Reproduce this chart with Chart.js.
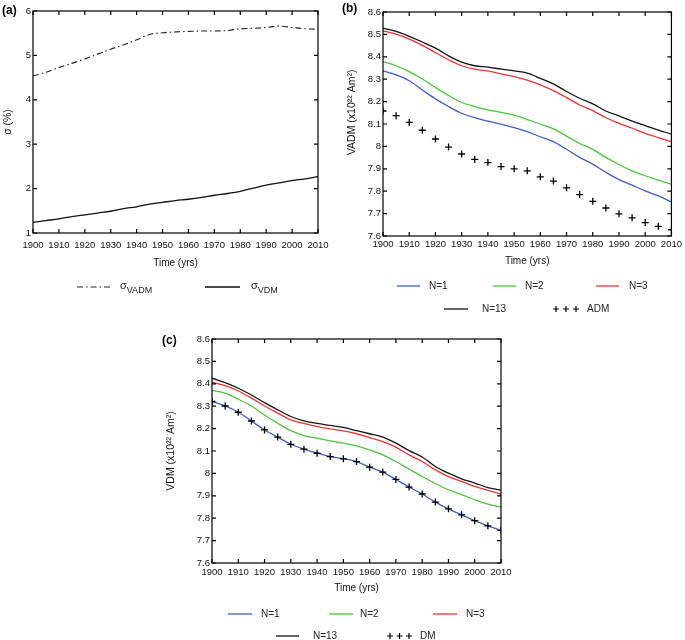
<!DOCTYPE html>
<html><head><meta charset="utf-8">
<script src="https://cdn.jsdelivr.net/npm/chart.js"></script>
<style>
html,body{margin:0;padding:0;background:#fff;width:685px;height:640px;overflow:hidden}
canvas{position:absolute}
</style></head>
<body>
<canvas id="ca" width="340" height="320" style="left:0;top:0;width:340px;height:320px"></canvas>
<canvas id="cb" width="345" height="320" style="left:340px;top:0;width:345px;height:320px"></canvas>
<canvas id="cc" width="370" height="320" style="left:160px;top:320px;width:370px;height:320px"></canvas>
<script>
// ---------- data ----------
const years = [1900,1905,1910,1915,1920,1925,1930,1935,1940,1945,1950,1955,1960,1965,1970,1975,1980,1985,1990,1995,2000,2005,2010];
const yearTicks = [1900,1910,1920,1930,1940,1950,1960,1970,1980,1990,2000,2010];
const sigmaTicks = [1,2,3,4,5,6];
const momentTicks = [7.6,7.7,7.8,7.9,8,8.1,8.2,8.3,8.4,8.5,8.6];

// panel (a)
const sigmaVADM = [4.54,4.62,4.73,4.82,4.92,5.03,5.14,5.24,5.35,5.47,5.51,5.53,5.54,5.55,5.55,5.56,5.60,5.61,5.63,5.66,5.63,5.60,5.59];
const sigmaVDM  = [1.24,1.28,1.32,1.37,1.41,1.45,1.49,1.55,1.59,1.65,1.69,1.73,1.76,1.80,1.85,1.89,1.94,2.01,2.08,2.13,2.18,2.22,2.27];

// panel (b)
const vadmN1  = [8.337,8.319,8.293,8.252,8.212,8.178,8.148,8.128,8.113,8.099,8.084,8.066,8.043,8.021,7.987,7.951,7.921,7.884,7.852,7.827,7.801,7.779,7.752];
const vadmN2  = [8.379,8.360,8.334,8.301,8.263,8.227,8.196,8.178,8.163,8.152,8.140,8.120,8.100,8.078,8.046,8.013,7.987,7.951,7.919,7.891,7.869,7.849,7.831];
const vadmN3  = [8.516,8.501,8.479,8.451,8.419,8.387,8.360,8.345,8.337,8.324,8.312,8.296,8.275,8.249,8.218,8.185,8.160,8.128,8.103,8.081,8.058,8.039,8.021];
const vadmN13 = [8.528,8.513,8.491,8.466,8.439,8.404,8.376,8.360,8.354,8.345,8.337,8.327,8.304,8.279,8.245,8.215,8.190,8.158,8.136,8.113,8.093,8.073,8.055];
const adm     = [8.158,8.137,8.107,8.072,8.033,7.997,7.966,7.942,7.928,7.910,7.900,7.891,7.864,7.845,7.815,7.785,7.755,7.725,7.699,7.681,7.660,7.643,7.628];

// panel (c)
const vdmN1  = [8.321,8.301,8.273,8.234,8.194,8.162,8.130,8.108,8.090,8.075,8.065,8.053,8.028,8.006,7.973,7.939,7.908,7.872,7.842,7.815,7.789,7.766,7.746];
const vdmN2  = [8.371,8.358,8.331,8.301,8.261,8.224,8.191,8.169,8.157,8.145,8.135,8.123,8.105,8.083,8.053,8.019,7.986,7.955,7.927,7.905,7.882,7.863,7.850];
const vdmN3  = [8.407,8.392,8.368,8.336,8.301,8.269,8.239,8.223,8.209,8.199,8.190,8.177,8.160,8.142,8.117,8.083,8.053,8.016,7.986,7.964,7.942,7.924,7.908];
const vdmN13 = [8.425,8.405,8.380,8.350,8.316,8.284,8.254,8.234,8.223,8.214,8.205,8.191,8.177,8.162,8.135,8.102,8.073,8.031,8.001,7.976,7.957,7.937,7.925];
const dm     = [8.321,8.301,8.273,8.234,8.194,8.162,8.130,8.108,8.090,8.075,8.065,8.053,8.028,8.006,7.973,7.939,7.908,7.872,7.842,7.815,7.789,7.766,7.746];

// ---------- styling ----------
const FONT = "'Liberation Sans', Arial, sans-serif";
const TICKFONT = "'Liberation Sans Narrow', 'Liberation Sans', Arial, sans-serif";
const BLUE = '#3f5fc6', GREEN = '#4cc43a', RED = '#f03232', BLACK = '#151515';

const pts = arr => years.map((y, i) => ({x: y, y: arr[i]}));
const lineDs = (label, arr, color, extra) => Object.assign({
  label, data: pts(arr), borderColor: color, backgroundColor: color, borderWidth: 1.3,
  pointRadius: 0, fill: false, cubicInterpolationMode: 'monotone', clip: 0
}, extra || {});
const crossDs = (label, arr) => ({
  label, data: pts(arr), showLine: false, pointStyle: 'cross', pointRadius: 3.5,
  pointBorderWidth: 1.3, borderColor: '#000', backgroundColor: '#000', clip: 0, order: -1
});

const framePlugin = {
  id: 'frame',
  afterDraw(chart, args, o) {
    const {ctx, chartArea: a, scales: {x, y}} = chart;
    ctx.save();
    ctx.strokeStyle = '#000'; ctx.lineWidth = 1.2; ctx.setLineDash([]);
    ctx.strokeRect(a.left, a.top, a.right - a.left, a.bottom - a.top);
    const L = 4;
    ctx.beginPath();
    x.ticks.forEach(t => {
      const p = x.getPixelForValue(t.value);
      ctx.moveTo(p, a.bottom); ctx.lineTo(p, a.bottom - L);
      ctx.moveTo(p, a.top); ctx.lineTo(p, a.top + L);
    });
    y.ticks.forEach(t => {
      const p = y.getPixelForValue(t.value);
      ctx.moveTo(a.left, p); ctx.lineTo(a.left + L, p);
      ctx.moveTo(a.right, p); ctx.lineTo(a.right - L, p);
    });
    ctx.stroke();
    // panel label
    ctx.fillStyle = '#000';
    ctx.font = 'bold 12px ' + FONT;
    ctx.textBaseline = 'alphabetic'; ctx.textAlign = 'left';
    ctx.fillText(o.label, o.lx, o.ly);
    // legend
    o.items.forEach(it => {
      const ds = chart.data.datasets[it.ds];
      ctx.save();
      if (it.cross) {
        ctx.strokeStyle = '#000'; ctx.lineWidth = 1.2; ctx.setLineDash([]);
        ctx.beginPath();
        for (let k = 0; k < 3; k++) {
          const cx = it.x + k * it.step;
          ctx.moveTo(cx - 3, it.y); ctx.lineTo(cx + 3, it.y);
          ctx.moveTo(cx, it.y - 3); ctx.lineTo(cx, it.y + 3);
        }
        ctx.stroke();
      } else {
        ctx.strokeStyle = ds.borderColor; ctx.lineWidth = ds.borderWidth;
        ctx.setLineDash(ds.borderDash || []);
        ctx.beginPath(); ctx.moveTo(it.x, it.y); ctx.lineTo(it.x + it.w, it.y); ctx.stroke();
      }
      ctx.restore();
      ctx.fillStyle = '#222'; ctx.textBaseline = 'middle'; ctx.textAlign = 'left';
      if (it.sub) {
        const main = ds.label.slice(0, 1), sub = ds.label.slice(1);
        ctx.font = '11px ' + FONT;
        ctx.fillText(main, it.tx, it.y - 1);
        const w = ctx.measureText(main).width;
        ctx.font = '9px ' + FONT;
        ctx.fillText(sub, it.tx + w, it.y + 4);
      } else {
        ctx.font = '10px ' + FONT;
        ctx.fillText(ds.label, it.tx, it.y);
      }
    });
    ctx.restore();
  }
};

function makeChart(id, p) {
  return new Chart(document.getElementById(id), {
    type: 'line',
    data: {datasets: p.datasets},
    plugins: [framePlugin],
    options: {
      responsive: false, animation: false, events: [],
      layout: {padding: p.pad},
      plugins: {legend: {display: false}, tooltip: {enabled: false}, frame: p.frame},
      scales: {
        x: {
          type: 'linear', min: 1900, max: 2010,
          afterBuildTicks: s => { s.ticks = yearTicks.map(v => ({value: v})); },
          afterFit: s => { s.height = p.xH; },
          ticks: {callback: v => String(v), font: {family: TICKFONT, size: 9.5}, color: '#111', padding: p.xPad, maxRotation: 0, autoSkip: false},
          grid: {display: false, drawTicks: false}, border: {display: false},
          title: {display: true, text: 'Time (yrs)', font: {family: FONT, size: 10}, color: '#111', padding: 0}
        },
        y: {
          type: 'linear', min: p.yMin, max: p.yMax,
          afterBuildTicks: s => { s.ticks = p.yTicks.map(v => ({value: v})); },
          afterFit: s => { s.width = p.yW; },
          ticks: {callback: v => String(+v.toFixed(1)), font: {family: TICKFONT, size: 9.5}, color: '#111', padding: 2, autoSkip: false},
          grid: {display: false, drawTicks: false}, border: {display: false},
          title: {display: true, text: p.yTitle, font: {family: FONT, size: 10.5}, color: '#111', padding: {top: p.yTPad, bottom: 0}}
        }
      }
    }
  });
}

makeChart('ca', {
  datasets: [
    lineDs('σVADM', sigmaVADM, '#222', {borderDash: [6, 3, 1.5, 3], borderWidth: 1.1}),
    lineDs('σVDM', sigmaVDM, '#111', {borderWidth: 1.3})
  ],
  pad: {left: 0, right: 22, top: 11, bottom: 51},
  xH: 36, xPad: 7, yW: 33, yTPad: 2,
  yMin: 1, yMax: 6, yTicks: sigmaTicks, yTitle: 'σ (%)',
  frame: {label: '(a)', lx: 2, ly: 14, items: [
    {ds: 0, x: 77, w: 33, tx: 120, y: 287, sub: true},
    {ds: 1, x: 205, w: 35, tx: 251, y: 287, sub: true}
  ]}
});

makeChart('cb', {
  datasets: [
    lineDs('N=1', vadmN1, BLUE),
    lineDs('N=2', vadmN2, GREEN),
    lineDs('N=3', vadmN3, RED),
    lineDs('N=13', vadmN13, BLACK),
    crossDs('ADM', adm)
  ],
  pad: {left: 0, right: 10, top: 12, bottom: 53},
  xH: 31, xPad: 3, yW: 43, yTPad: 6,
  yMin: 7.6, yMax: 8.6, yTicks: momentTicks, yTitle: '        VADM (x10²² Am²)',
  frame: {label: '(b)', lx: 2, ly: 12, items: [
    {ds: 0, x: 57, w: 23, tx: 89, y: 286},
    {ds: 1, x: 153, w: 23, tx: 185, y: 286},
    {ds: 2, x: 256, w: 23, tx: 289, y: 286},
    {ds: 3, x: 104, w: 24, tx: 142, y: 309},
    {ds: 4, x: 216, step: 10, cross: true, tx: 247, y: 309}
  ]}
});

makeChart('cc', {
  datasets: [
    lineDs('N=1', vdmN1, BLUE),
    lineDs('N=2', vdmN2, GREEN),
    lineDs('N=3', vdmN3, RED),
    lineDs('N=13', vdmN13, BLACK),
    crossDs('DM', dm)
  ],
  pad: {left: 0, right: 29, top: 19, bottom: 46},
  xH: 31, xPad: 4, yW: 52, yTPad: 5,
  yMin: 7.6, yMax: 8.6, yTicks: momentTicks, yTitle: 'VDM (x10²² Am²)',
  frame: {label: '(c)', lx: 2, ly: 24, items: [
    {ds: 0, x: 68, w: 24, tx: 101, y: 294},
    {ds: 1, x: 169, w: 24, tx: 200, y: 294},
    {ds: 2, x: 273, w: 24, tx: 306, y: 294},
    {ds: 3, x: 116, w: 23, tx: 153, y: 316},
    {ds: 4, x: 230, step: 9.5, cross: true, tx: 260, y: 316}
  ]}
});
</script>
</body></html>
